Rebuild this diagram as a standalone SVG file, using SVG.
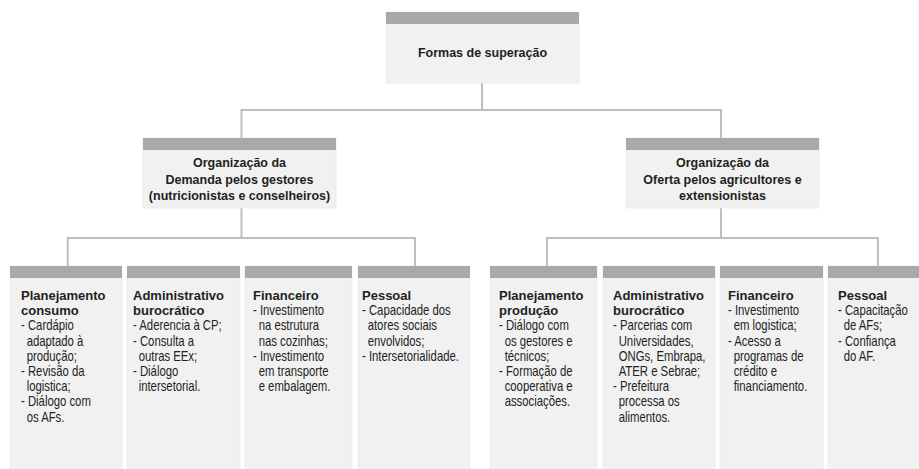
<svg xmlns="http://www.w3.org/2000/svg" width="919" height="469" viewBox="0 0 919 469">
<style>
.box{fill:#f1f1f2;stroke:#e4e4e5;stroke-width:0.6}
.hdr{fill:#a7a9ac}
.conn{fill:none;stroke:#bcbec0;stroke-width:2}
.t{font-family:"Liberation Sans",Arial,sans-serif;font-size:13px;font-weight:bold;fill:#231f20}
.m{font-family:"Liberation Sans",Arial,sans-serif;font-size:12.5px;font-weight:bold;fill:#231f20;text-anchor:middle}
.r{font-family:"Liberation Sans",Arial,sans-serif;font-size:14px;fill:#231f20}
</style>
<rect width="919" height="469" fill="#ffffff"/>
<g id="connectors">
<path class="conn" d="M482 83 V110 M241.5 110 H721 M241.5 109 V138 M721 109 V138"/>
<path class="conn" d="M241.5 208 V238 M67.7 238 H415 M67.7 237 V266 M415 237 V266"/>
<path class="conn" d="M721 208 V238 M547 238 H878 M547 237 V266 M878 237 V266"/>
</g>
<g id="root">
<rect class="box" x="386" y="12" width="193" height="71"/>
<rect class="hdr" x="386" y="12" width="193" height="12"/>
<text class="m" x="482.5" y="57">Formas de superação</text>
</g>
<g id="demanda">
<rect class="box" x="143" y="138" width="193" height="70"/>
<rect class="hdr" x="143" y="138" width="193" height="12"/>
<text class="m" x="239.5" y="167">Organização da</text>
<text class="m" x="239.5" y="183.5">Demanda pelos gestores</text>
<text class="m" x="239.5" y="200">(nutricionistas e conselheiros)</text>
</g>
<g id="oferta">
<rect class="box" x="626" y="138" width="193" height="70"/>
<rect class="hdr" x="626" y="138" width="193" height="12"/>
<text class="m" x="722.5" y="167">Organização da</text>
<text class="m" x="722.5" y="183.5">Oferta pelos agricultores e</text>
<text class="m" x="722.5" y="200">extensionistas</text>
</g>
<g id="d-planejamento">
<rect class="box" x="10" y="266" width="112" height="210"/>
<rect class="hdr" x="10" y="266" width="112" height="12"/>
<text class="t" x="21" y="300">Planejamento<tspan x="21" dy="15.2">consumo</tspan></text>
<text class="r" transform="translate(21 0) scale(0.81 1)" x="0" y="330.4">- Cardápio<tspan x="7" dy="15.2">adaptado à</tspan><tspan x="7" dy="15.2">produção;</tspan><tspan x="0" dy="15.2">- Revisão da</tspan><tspan x="7" dy="15.2">logistica;</tspan><tspan x="0" dy="15.2">- Diálogo com</tspan><tspan x="7" dy="15.2">os AFs.</tspan></text>
</g>
<g id="d-administrativo">
<rect class="box" x="127" y="266" width="113" height="210"/>
<rect class="hdr" x="127" y="266" width="113" height="12"/>
<text class="t" x="133" y="300">Administrativo<tspan x="133" dy="15.2">burocrático</tspan></text>
<text class="r" transform="translate(133 0) scale(0.81 1)" x="0" y="330.4">- Aderencia à CP;<tspan x="0" dy="15.2">- Consulta a</tspan><tspan x="7" dy="15.2">outras EEx;</tspan><tspan x="0" dy="15.2">- Diálogo</tspan><tspan x="7" dy="15.2">intersetorial.</tspan></text>
</g>
<g id="d-financeiro">
<rect class="box" x="245" y="266" width="107" height="210"/>
<rect class="hdr" x="245" y="266" width="107" height="12"/>
<text class="t" x="253" y="300">Financeiro</text>
<text class="r" transform="translate(253 0) scale(0.81 1)" x="0" y="315.2">- Investimento<tspan x="7" dy="15.2">na estrutura</tspan><tspan x="7" dy="15.2">nas cozinhas;</tspan><tspan x="0" dy="15.2">- Investimento</tspan><tspan x="7" dy="15.2">em transporte</tspan><tspan x="7" dy="15.2">e embalagem.</tspan></text>
</g>
<g id="d-pessoal">
<rect class="box" x="358" y="266" width="112" height="210"/>
<rect class="hdr" x="358" y="266" width="112" height="12"/>
<text class="t" x="362" y="300">Pessoal</text>
<text class="r" transform="translate(362 0) scale(0.81 1)" x="0" y="315.2">- Capacidade dos<tspan x="7" dy="15.2">atores sociais</tspan><tspan x="7" dy="15.2">envolvidos;</tspan><tspan x="0" dy="15.2">- Intersetorialidade.</tspan></text>
</g>
<g id="o-planejamento">
<rect class="box" x="490" y="266" width="107" height="210"/>
<rect class="hdr" x="490" y="266" width="107" height="12"/>
<text class="t" x="499" y="300">Planejamento<tspan x="499" dy="15.2">produção</tspan></text>
<text class="r" transform="translate(499 0) scale(0.81 1)" x="0" y="330.4">- Diálogo com<tspan x="7" dy="15.2">os gestores e</tspan><tspan x="7" dy="15.2">técnicos;</tspan><tspan x="0" dy="15.2">- Formação de</tspan><tspan x="7" dy="15.2">cooperativa e</tspan><tspan x="7" dy="15.2">associações.</tspan></text>
</g>
<g id="o-administrativo">
<rect class="box" x="603" y="266" width="112" height="210"/>
<rect class="hdr" x="603" y="266" width="112" height="12"/>
<text class="t" x="613" y="300">Administrativo<tspan x="613" dy="15.2">burocrático</tspan></text>
<text class="r" transform="translate(613 0) scale(0.81 1)" x="0" y="330.4">- Parcerias com<tspan x="7" dy="15.2">Universidades,</tspan><tspan x="7" dy="15.2">ONGs, Embrapa,</tspan><tspan x="7" dy="15.2">ATER e Sebrae;</tspan><tspan x="0" dy="15.2">- Prefeitura</tspan><tspan x="7" dy="15.2">processa os</tspan><tspan x="7" dy="15.2">alimentos.</tspan></text>
</g>
<g id="o-financeiro">
<rect class="box" x="720" y="266" width="103" height="210"/>
<rect class="hdr" x="720" y="266" width="103" height="12"/>
<text class="t" x="728" y="300">Financeiro</text>
<text class="r" transform="translate(728 0) scale(0.81 1)" x="0" y="315.2">- Investimento<tspan x="7" dy="15.2">em logistica;</tspan><tspan x="0" dy="15.2">- Acesso a</tspan><tspan x="7" dy="15.2">programas de</tspan><tspan x="7" dy="15.2">crédito e</tspan><tspan x="7" dy="15.2">financiamento.</tspan></text>
</g>
<g id="o-pessoal">
<rect class="box" x="828" y="266" width="95" height="210"/>
<rect class="hdr" x="828" y="266" width="95" height="12"/>
<text class="t" x="838" y="300">Pessoal</text>
<text class="r" transform="translate(838 0) scale(0.81 1)" x="0" y="315.2">- Capacitação<tspan x="7" dy="15.2">de AFs;</tspan><tspan x="0" dy="15.2">- Confiança</tspan><tspan x="7" dy="15.2">do AF.</tspan></text>
</g>
</svg>
